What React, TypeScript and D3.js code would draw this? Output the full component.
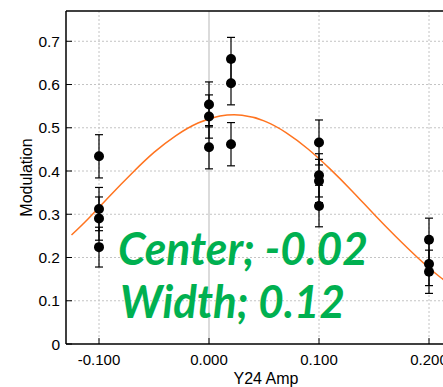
import React, { useEffect, useRef } from 'react';
import * as d3 from 'd3';

// measured points: x (Y24 Amp), modulation, error (+/-)
const xValues = [-0.1, -0.1, -0.1, -0.1, 0.0, 0.0, 0.0, 0.02, 0.02, 0.02, 0.1, 0.1, 0.1, 0.1, 0.2, 0.2, 0.2];
const modValues = [0.434, 0.312, 0.290, 0.224, 0.554, 0.526, 0.455, 0.659, 0.603, 0.462, 0.466, 0.390, 0.377, 0.319, 0.241, 0.185, 0.167];
const errValues = [0.05, 0.05, 0.05, 0.046, 0.052, 0.05, 0.05, 0.05, 0.05, 0.05, 0.052, 0.05, 0.05, 0.048, 0.05, 0.05, 0.05];

// fit curve
const fitX = [-0.125, -0.11, -0.09, -0.07, -0.05, -0.03, -0.01, 0.01, 0.03, 0.05, 0.07, 0.09, 0.11, 0.13, 0.15, 0.17, 0.19, 0.21, 0.23];
const fitY = [0.252, 0.289, 0.343, 0.395, 0.443, 0.482, 0.511, 0.527, 0.529, 0.516, 0.489, 0.451, 0.405, 0.354, 0.300, 0.248, 0.199, 0.155, 0.118];

const xTicks = [-0.1, 0.0, 0.1, 0.2];
const yTicks = [0, 0.1, 0.2, 0.3, 0.4, 0.5, 0.6, 0.7];
const notes = ['Center; -0.02', 'Width; 0.12'];

const App = () => {
  const svgRef = useRef(null);

  useEffect(() => {
    const svg = d3.select(svgRef.current);
    svg.selectAll('*').remove();

    const margin = { top: 11, left: 66, bottom: 344, right: 462 };
    const x = d3.scaleLinear().domain([-0.13, 0.23]).range([margin.left, margin.right]);
    const y = d3.scaleLinear().domain([0, 0.77]).range([margin.bottom, margin.top]);
    const font = 'Liberation Sans, Arial, sans-serif';

    // grid
    svg.append('g').selectAll('line').data(yTicks.filter(d => d > 0)).join('line')
      .attr('x1', margin.left).attr('x2', 443)
      .attr('y1', d => y(d)).attr('y2', d => y(d))
      .attr('stroke', '#c4c4c4').attr('stroke-dasharray', '2,2');
    svg.append('g').selectAll('line').data(xTicks).join('line')
      .attr('x1', d => x(d)).attr('x2', d => x(d))
      .attr('y1', margin.top).attr('y2', margin.bottom)
      .attr('stroke', d => d === 0 ? '#cfcfcf' : '#c4c4c4')
      .attr('stroke-width', d => d === 0 ? 1.5 : 1)
      .attr('stroke-dasharray', d => d === 0 ? null : '2,2');

    // axis frame
    svg.append('line').attr('x1', margin.left).attr('x2', 443).attr('y1', margin.top).attr('y2', margin.top).attr('stroke', '#000').attr('stroke-width', 1.5);
    svg.append('line').attr('x1', margin.left).attr('x2', 443).attr('y1', margin.bottom).attr('y2', margin.bottom).attr('stroke', '#000').attr('stroke-width', 1.5);
    svg.append('line').attr('x1', margin.left).attr('x2', margin.left).attr('y1', margin.top).attr('y2', margin.bottom).attr('stroke', '#000').attr('stroke-width', 1.5);

    // ticks (inside)
    svg.append('g').selectAll('line').data(yTicks).join('line')
      .attr('x1', margin.left).attr('x2', margin.left + 6)
      .attr('y1', d => y(d)).attr('y2', d => y(d)).attr('stroke', '#000');
    svg.append('g').selectAll('line').data(xTicks).join('line')
      .attr('x1', d => x(d)).attr('x2', d => x(d))
      .attr('y1', margin.bottom).attr('y2', margin.bottom - 6).attr('stroke', '#000');

    svg.append('g').selectAll('text').data(yTicks).join('text')
      .attr('x', margin.left - 6).attr('y', d => y(d) + 5.5)
      .attr('text-anchor', 'end').style('font-family', font).style('font-size', '15.5px')
      .text(d => d === 0 ? '0' : d3.format('.1f')(d));
    svg.append('g').selectAll('text').data(xTicks).join('text')
      .attr('x', d => x(d)).attr('y', 365)
      .attr('text-anchor', 'middle').style('font-family', font).style('font-size', '15px')
      .text(d => d3.format('.3f')(d).replace('−', '-'));

    svg.append('text').attr('x', 266).attr('y', 384)
      .attr('text-anchor', 'middle').style('font-family', font).style('font-size', '16px').text('Y24 Amp');
    svg.append('text').attr('transform', `translate(32,${(margin.top + margin.bottom) / 2}) rotate(-90)`)
      .attr('text-anchor', 'middle').style('font-family', font).style('font-size', '16px').text('Modulation');

    // fit curve
    const line = d3.line().x(d => x(d[0])).y(d => y(d[1])).curve(d3.curveNatural);
    svg.append('path').datum(fitX.map((v, i) => [v, fitY[i]]))
      .attr('d', line).attr('fill', 'none').attr('stroke', '#ff7420').attr('stroke-width', 1.5);

    // error bars + points
    const pts = xValues.map((v, i) => ({ x: v, y: modValues[i], e: errValues[i] }));
    const eb = svg.append('g').attr('stroke', '#000').attr('stroke-width', 1.2);
    pts.forEach(p => {
      eb.append('line').attr('x1', x(p.x)).attr('x2', x(p.x)).attr('y1', y(p.y - p.e)).attr('y2', y(p.y + p.e));
      eb.append('line').attr('x1', x(p.x) - 4).attr('x2', x(p.x) + 4).attr('y1', y(p.y - p.e)).attr('y2', y(p.y - p.e));
      eb.append('line').attr('x1', x(p.x) - 4).attr('x2', x(p.x) + 4).attr('y1', y(p.y + p.e)).attr('y2', y(p.y + p.e));
    });
    svg.append('g').selectAll('circle').data(pts).join('circle')
      .attr('cx', d => x(d.x)).attr('cy', d => y(d.y)).attr('r', 5).attr('fill', '#000');

    // annotation
    svg.append('g').selectAll('text').data(notes).join('text')
      .attr('x', (d, i) => i === 0 ? 118 : 120).attr('y', (d, i) => i === 0 ? 265 : 318)
      .attr('textLength', (d, i) => i === 0 ? 250 : 225).attr('lengthAdjust', 'spacingAndGlyphs')
      .style('font-family', 'Lato, "Open Sans", sans-serif').style('font-weight', 'bold')
      .style('font-style', 'italic').style('font-size', '45px').style('fill', '#00b050')
      .text(d => d);
  }, []);

  return (
    <svg ref={svgRef} width={443} height={387} style={{ position: 'absolute', left: 0, top: 0, background: '#fff' }}></svg>
  );
};

export default App;
